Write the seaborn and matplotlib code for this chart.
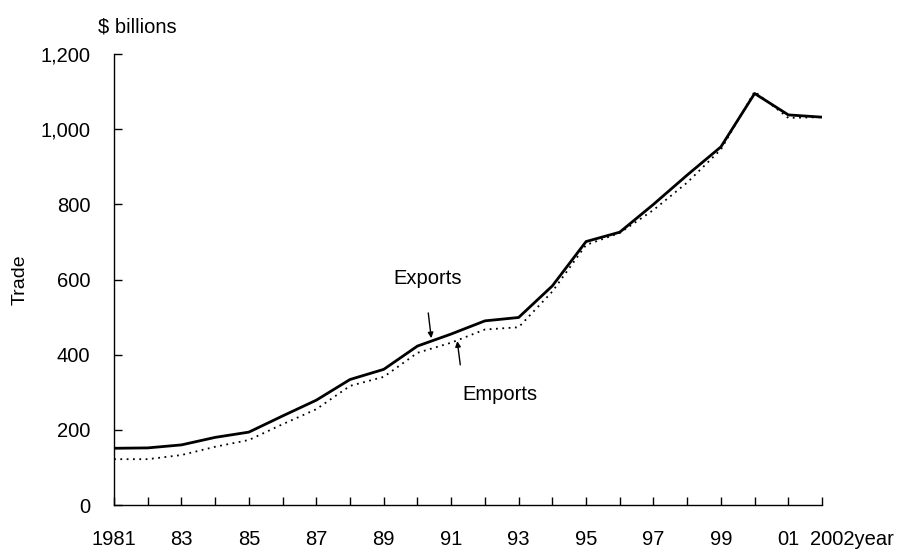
import pandas as pd
import matplotlib
matplotlib.use('Agg')
import matplotlib.pyplot as plt
import matplotlib.transforms as mtransforms
import seaborn as sns

years = list(range(1981, 2003))
exports = [151, 152, 160, 180, 194, 237, 279, 334, 361, 423, 455, 490,
           499, 583, 701, 726, 800, 878, 953, 1095, 1038, 1032]
imports = [122, 122, 133, 155, 173, 215, 255, 317, 341, 405, 432, 467,
           473, 568, 692, 724, 785, 858, 946, 1100, 1030, 1032]
tick_labels = ['1981', '', '83', '', '85', '', '87', '', '89', '', '91', '',
               '93', '', '95', '', '97', '', '99', '', '01', '2002year']
y_ticks = [0, 200, 400, 600, 800, 1000, 1200]
y_labels = ['0', '200', '400', '600', '800', '1,000', '1,200']

df = pd.DataFrame({'year': years, 'Exports': exports, 'Emports': imports})

sns.set_style('white')
plt.rcParams['font.family'] = ['Liberation Sans', 'DejaVu Sans']
plt.rcParams['text.color'] = 'black'

fig = plt.figure(figsize=(9, 5.54), dpi=100)
ax = fig.add_axes([0.1267, 0.0884, 0.7867, 0.8141])

sns.lineplot(data=df, x='year', y='Exports', ax=ax, color='black', lw=2)
sns.lineplot(data=df, x='year', y='Emports', ax=ax, color='black', lw=1.3,
             linestyle=(0, (1, 2.5)))

ax.set_xlim(1981, 2002)
ax.set_ylim(0, 1200)
ax.set_xticks(years)
ax.set_xticklabels(tick_labels)
ax.set_yticks(y_ticks)
ax.set_yticklabels(y_labels)
ax.tick_params(axis='both', direction='in', length=6, width=1, colors='black',
               labelsize=14.5, bottom=True, left=True)
ax.tick_params(axis='x', pad=18)
ax.tick_params(axis='y', pad=17)
sns.despine(ax=ax)
for s in ['left', 'bottom']:
    ax.spines[s].set_color('black')
    ax.spines[s].set_linewidth(1)

last = ax.get_xticklabels()[-1]
last.set_transform(last.get_transform() +
                   mtransforms.ScaledTranslation(0.30, 0, fig.dpi_scale_trans))

ax.set_xlabel('')
ax.set_ylabel('Trade', fontsize=14, color='black')
ax.yaxis.set_label_coords(-0.12, 0.5)
fig.text(0.109, 0.952, '$ billions', fontsize=14.5, ha='left', va='center')

arrow = dict(arrowstyle='-|>', color='black', lw=1, mutation_scale=8,
             shrinkA=0, shrinkB=0)
ax.annotate('', xy=(1990.41, 444), xytext=(1990.32, 511), arrowprops=arrow)
ax.text(1990.29, 604, 'Exports', fontsize=14.5, ha='center', va='center')
ax.annotate('', xy=(1991.18, 436), xytext=(1991.27, 373), arrowprops=arrow)
ax.text(1992.45, 293, 'Emports', fontsize=14.5, ha='center', va='center')

fig.savefig('out.png', dpi=100)
